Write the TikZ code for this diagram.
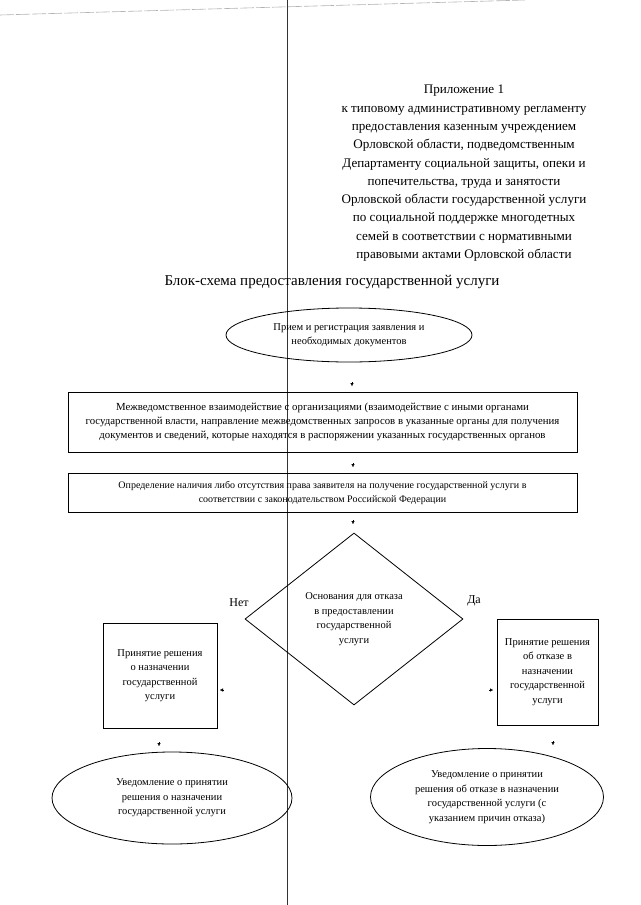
\documentclass[tikz,border=0pt]{standalone}
\usepackage{fontspec}
\setmainfont{Liberation Serif}
\usetikzlibrary{shapes.geometric,arrows.meta}
\begin{document}
\begin{tikzpicture}[x=1pt,y=-1pt,
  every node/.style={inner sep=0pt},
  txt/.style={font=\fontsize{10.5}{14.5}\selectfont, align=center},
  procbox/.style={draw, line width=0.8pt, txt},
  oval/.style={draw, ellipse, line width=0.8pt, txt},
  decision/.style={draw, diamond, line width=0.8pt, txt},
  marktip/.style={-{Triangle[width=3pt,length=3pt]}, line width=0.3pt},
  answer/.style={font=\fontsize{12}{14}\selectfont},
]
\useasboundingbox (0,0) rectangle (640,905);
% scan artefacts
\draw[gray!60, line width=0.6pt, dash pattern=on 14pt off 2pt] (0,15) -- (525,0);
\draw[black!80, line width=1pt] (287,0) -- (287,905);

% header
\node[align=center, font=\fontsize{13.1}{18.3}\selectfont, anchor=north] (hdr) at (464,85)
 {Приложение 1\\
  к типовому административному регламенту\\
  предоставления казенным учреждением\\
  Орловской области, подведомственным\\
  Департаменту социальной защиты, опеки и\\
  попечительства, труда и занятости\\
  Орловской области государственной услуги\\
  по социальной поддержке многодетных\\
  семей в соответствии с нормативными\\
  правовыми актами Орловской области};

\node[font=\fontsize{15}{18}\selectfont] (title) at (332,282)
 {Блок-схема предоставления государственной услуги};

\node[oval, minimum width=246, minimum height=54] (start) at (349,335)
 {Прием и регистрация заявления и\\необходимых документов};

\node[procbox, font=\fontsize{10.8}{14.3}\selectfont, minimum width=509, minimum height=60] (box1) at (322.5,422)
 {Межведомственное взаимодействие с организациями (взаимодействие с иными органами\\
  государственной власти, направление межведомственных запросов в указанные органы для получения\\
  документов и сведений, которые находятся в распоряжении указанных государственных органов};

\node[procbox, font=\fontsize{10}{14}\selectfont, minimum width=509, minimum height=39] (box2) at (322.5,492.5)
 {Определение наличия либо отсутствия права заявителя на получение государственной услуги в\\
  соответствии с законодательством Российской Федерации};

\node[decision, minimum width=218, minimum height=172] (dec) at (354,619)
 {Основания для отказа\\в предоставлении\\государственной\\услуги};

\node[answer] (no) at (239,603) {Нет};
\node[answer] (yes) at (474,601) {Да};

\node[procbox, minimum width=114, minimum height=105] (grant) at (160,675.5)
 {Принятие решения\\о назначении\\государственной\\услуги};

\node[procbox, minimum width=101, minimum height=106] (refuse) at (547.5,672)
 {Принятие решения\\об отказе в\\назначении\\государственной\\услуги};

\node[oval, minimum width=240, minimum height=92] (notegrant) at (172,798)
 {Уведомление о принятии\\решения о назначении\\государственной услуги};

\node[oval, minimum width=233, minimum height=97] (noterefuse) at (487,797)
 {Уведомление о принятии\\решения об отказе в назначении\\государственной услуги (с\\указанием причин отказа)};

% small arrow tips (the connecting lines are not visible in the scan)
\coordinate (a1) at (352,382);
\coordinate (a2) at (353,463);
\coordinate (a3) at (353,520);
\coordinate (a4) at (224,690);
\coordinate (a5) at (489,690);
\coordinate (a6) at (159,742);
\coordinate (a7) at (553,741);
\draw[marktip] (a1) -- ++(0,4);
\draw[marktip] (a2) -- ++(0,4);
\draw[marktip] (a3) -- ++(0,4);
\draw[marktip] (a4) -- ++(-4,0);
\draw[marktip] (a5) -- ++(4,0);
\draw[marktip] (a6) -- ++(0,4);
\draw[marktip] (a7) -- ++(0,4);
\end{tikzpicture}
\end{document}
